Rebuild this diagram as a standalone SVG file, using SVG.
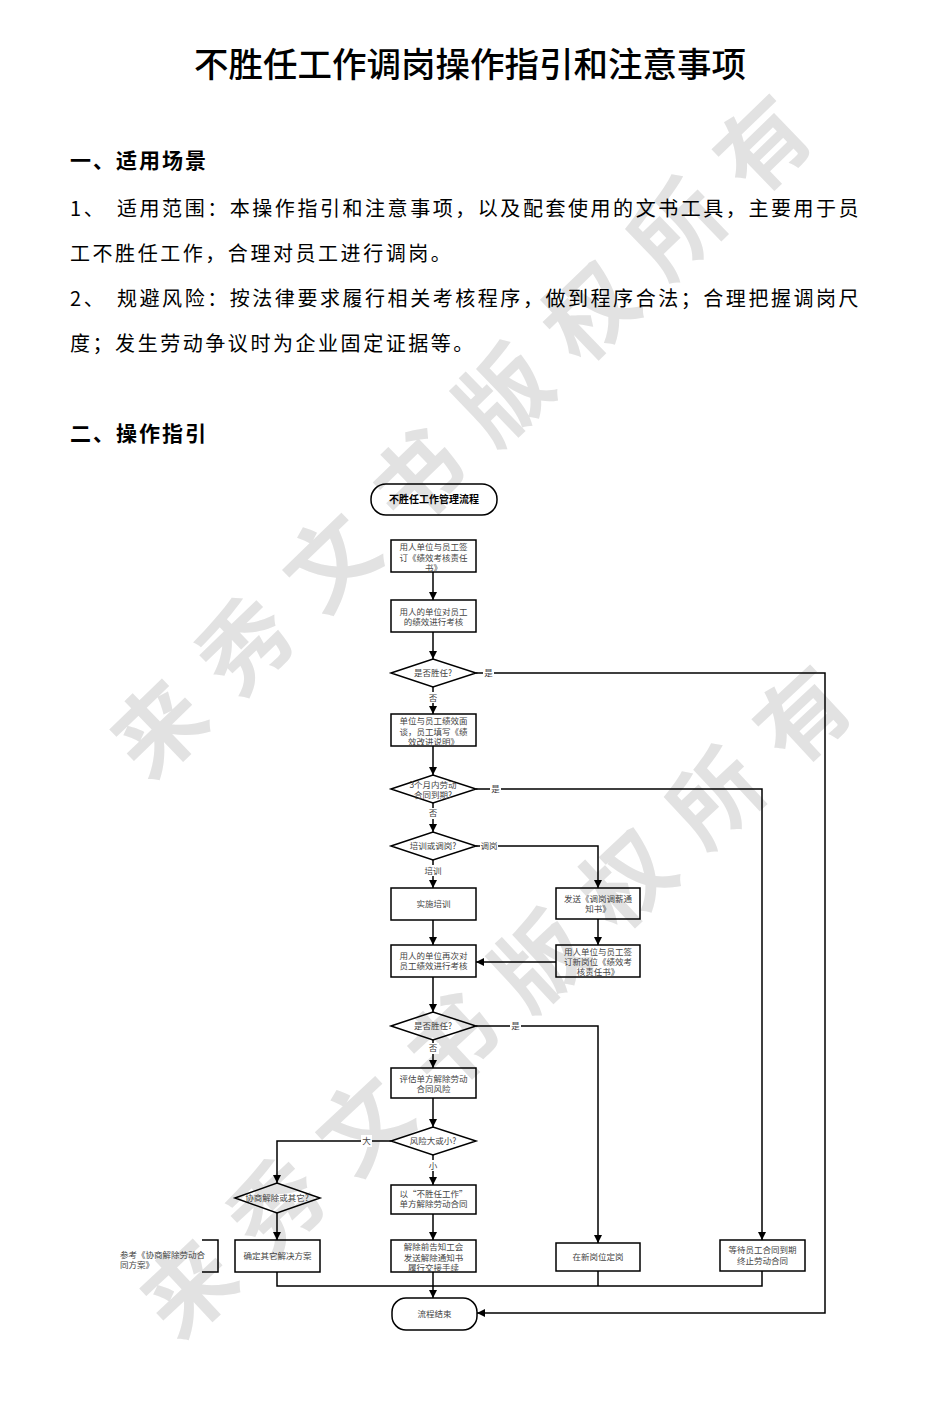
<svg xmlns="http://www.w3.org/2000/svg" width="939" height="1414" viewBox="0 0 939 1414">
<style>
.wm{font-family:"Noto Sans CJK SC",sans-serif;font-weight:700;font-size:90px;fill:#e2e2e2;letter-spacing:30px}
.h{font-family:"Noto Sans CJK SC",sans-serif;fill:#000}
.title{font-size:34.5px;font-weight:500;text-anchor:middle}
.sec{font-size:21px;font-weight:700;letter-spacing:2px}
.body{font-size:20px;letter-spacing:2.55px}
.box{fill:none;stroke:#000;stroke-width:1.5}
.ln{fill:none;stroke:#000;stroke-width:1.5}
.t{font-family:"Noto Sans CJK SC",sans-serif;font-size:8.5px;fill:#444;text-anchor:middle}
.ta{font-family:"Noto Sans CJK SC",sans-serif;font-size:8.5px;fill:#444}
.lb{fill:#fff}
</style>
<defs>
<marker id="ar" markerWidth="8" markerHeight="8" refX="8" refY="4" orient="auto" markerUnits="userSpaceOnUse"><path d="M0,0 L8,4 L0,8 z" fill="#000"/></marker>
</defs>
<rect width="939" height="1414" fill="#fff"/>
<g id="watermark">
<text class="wm" transform="translate(160,730) rotate(-44)" x="-45" y="31">来秀文书版权所有</text>
<text class="wm" transform="translate(190,1290) rotate(-43)" x="-45" y="31">来秀文书版权所有</text>
</g>
<g id="heading">
<text class="h title" x="470" y="77">不胜任工作调岗操作指引和注意事项</text>
<text class="h sec" x="70" y="168">一、适用场景</text>
<text class="h body" x="70" y="216">1、</text>
<text class="h body" x="117" y="216">适用范围：本操作指引和注意事项，以及配套使用的文书工具，主要用于员</text>
<text class="h body" x="70" y="261">工不胜任工作，合理对员工进行调岗。</text>
<text class="h body" x="70" y="306">2、</text>
<text class="h body" x="117" y="306">规避风险：按法律要求履行相关考核程序，做到程序合法；合理把握调岗尺</text>
<text class="h body" x="70" y="351">度；发生劳动争议时为企业固定证据等。</text>
<text class="h sec" x="70" y="441">二、操作指引</text>
</g>
<g id="connectors">
<path class="ln" d="M433,572 V600" marker-end="url(#ar)"/>
<path class="ln" d="M433,632 V659" marker-end="url(#ar)"/>
<path class="ln" d="M476,673 H825 V1313 H477" marker-end="url(#ar)"/>
<path class="ln" d="M433,687 V714" marker-end="url(#ar)"/>
<path class="ln" d="M433,746 V775" marker-end="url(#ar)"/>
<path class="ln" d="M476,789 H762 V1240" marker-end="url(#ar)"/>
<path class="ln" d="M433,803 V832" marker-end="url(#ar)"/>
<path class="ln" d="M476,846 H598 V888" marker-end="url(#ar)"/>
<path class="ln" d="M433,860 V888" marker-end="url(#ar)"/>
<path class="ln" d="M598,919 V945" marker-end="url(#ar)"/>
<path class="ln" d="M556,962 H476" marker-end="url(#ar)"/>
<path class="ln" d="M433,920 V945" marker-end="url(#ar)"/>
<path class="ln" d="M433,977 V1012" marker-end="url(#ar)"/>
<path class="ln" d="M476,1026 H598 V1243" marker-end="url(#ar)"/>
<path class="ln" d="M433,1040 V1068" marker-end="url(#ar)"/>
<path class="ln" d="M433,1098 V1127" marker-end="url(#ar)"/>
<path class="ln" d="M391,1141 H277 V1183" marker-end="url(#ar)"/>
<path class="ln" d="M433,1155 V1185" marker-end="url(#ar)"/>
<path class="ln" d="M277,1213 V1240" marker-end="url(#ar)"/>
<path class="ln" d="M433,1214 V1240" marker-end="url(#ar)"/>
<path class="ln" d="M277,1272 V1286 H762 V1271 M598,1271 V1286"/>
<path class="ln" d="M433,1272 V1298" marker-end="url(#ar)"/>
<path class="ln" d="M202,1240 H218 V1272 H202"/>
<rect class="lb" x="483" y="667" width="11" height="12"/><text class="t" x="488.5" y="676">是</text>
<rect class="lb" x="427" y="692" width="12" height="11"/><text class="t" x="433" y="701">否</text>
<rect class="lb" x="490" y="783" width="11" height="12"/><text class="t" x="495.5" y="792">是</text>
<rect class="lb" x="427" y="808" width="12" height="11"/><text class="t" x="433" y="816">否</text>
<rect class="lb" x="480" y="840" width="18" height="12"/><text class="t" x="489" y="849">调岗</text>
<rect class="lb" x="424" y="865" width="18" height="11"/><text class="t" x="433" y="874">培训</text>
<rect class="lb" x="510" y="1020" width="11" height="12"/><text class="t" x="515.5" y="1029">是</text>
<rect class="lb" x="427" y="1043" width="12" height="11"/><text class="t" x="433" y="1051">否</text>
<rect class="lb" x="361" y="1135" width="11" height="12"/><text class="t" x="366.5" y="1144">大</text>
<rect class="lb" x="427" y="1160" width="12" height="11"/><text class="t" x="433" y="1169">小</text>
</g>
<g id="start"><rect class="box" x="371" y="484" width="126" height="31" rx="15"/><text class="t" x="434" y="503" style="font-size:10px;font-weight:700;fill:#000">不胜任工作管理流程</text></g>
<g id="b1"><rect class="box" x="391" y="540" width="85" height="32"/><text class="t" x="433.5" y="550">用人单位与员工签</text><text class="t" x="433.5" y="561">订《绩效考核责任</text><text class="t" x="433.5" y="571">书》</text></g>
<g id="b2"><rect class="box" x="391" y="600" width="85" height="32"/><text class="t" x="433.5" y="615">用人的单位对员工</text><text class="t" x="433.5" y="625">的绩效进行考核</text></g>
<g id="d1"><polygon class="box" points="391,673 433,659 476,673 433,687"/><text class="t" x="433" y="676">是否胜任?</text></g>
<g id="b3"><rect class="box" x="391" y="714" width="85" height="32"/><text class="t" x="433.5" y="724">单位与员工绩效面</text><text class="t" x="433.5" y="735">谈，员工填写《绩</text><text class="t" x="433.5" y="745">效改进说明》</text></g>
<g id="d2"><polygon class="box" points="391,789 433,775 476,789 433,803"/><text class="t" x="433" y="788">3个月内劳动</text><text class="t" x="433" y="798">合同到期?</text></g>
<g id="d3"><polygon class="box" points="391,846 433,832 476,846 433,860"/><text class="t" x="433" y="849">培训或调岗?</text></g>
<g id="b4"><rect class="box" x="391" y="888" width="85" height="32"/><text class="t" x="433.5" y="907">实施培训</text></g>
<g id="b5"><rect class="box" x="556" y="888" width="84" height="31"/><text class="t" x="598" y="902">发送《调岗调薪通</text><text class="t" x="598" y="912">知书》</text></g>
<g id="b6"><rect class="box" x="556" y="945" width="84" height="32"/><text class="t" x="598" y="955">用人单位与员工签</text><text class="t" x="598" y="965">订新岗位《绩效考</text><text class="t" x="598" y="975">核责任书》</text></g>
<g id="b7"><rect class="box" x="391" y="945" width="85" height="32"/><text class="t" x="433.5" y="959">用人的单位再次对</text><text class="t" x="433.5" y="969">员工绩效进行考核</text></g>
<g id="d4"><polygon class="box" points="391,1026 433,1012 476,1026 433,1040"/><text class="t" x="433" y="1029">是否胜任?</text></g>
<g id="b8"><rect class="box" x="391" y="1068" width="85" height="30"/><text class="t" x="433.5" y="1082">评估单方解除劳动</text><text class="t" x="433.5" y="1092">合同风险</text></g>
<g id="d5"><polygon class="box" points="391,1141 433,1127 476,1141 433,1155"/><text class="t" x="433" y="1144">风险大或小?</text></g>
<g id="d6"><polygon class="box" points="235,1198 277,1183 320,1198 277,1213"/><text class="t" x="277" y="1201">协商解除或其它?</text></g>
<g id="b9"><rect class="box" x="235" y="1240" width="85" height="32"/><text class="t" x="277.5" y="1259">确定其它解决方案</text></g>
<g id="note"><text class="ta" x="120" y="1258">参考《协商解除劳动合</text><text class="ta" x="120" y="1268">同方案》</text></g>
<g id="b10"><rect class="box" x="391" y="1185" width="85" height="29"/><text class="t" x="433.5" y="1197">以“不胜任工作”</text><text class="t" x="433.5" y="1207">单方解除劳动合同</text></g>
<g id="b11"><rect class="box" x="391" y="1240" width="85" height="32"/><text class="t" x="433.5" y="1250">解除前告知工会</text><text class="t" x="433.5" y="1261">发送解除通知书</text><text class="t" x="433.5" y="1271">履行交接手续</text></g>
<g id="b12"><rect class="box" x="556" y="1243" width="84" height="28"/><text class="t" x="598" y="1260">在新岗位定岗</text></g>
<g id="b13"><rect class="box" x="720" y="1240" width="85" height="31"/><text class="t" x="762.5" y="1253">等待员工合同到期</text><text class="t" x="762.5" y="1264">终止劳动合同</text></g>
<g id="end"><rect class="box" x="392" y="1298" width="85" height="32" rx="14"/><text class="t" x="434.5" y="1317">流程结束</text></g>
</svg>
